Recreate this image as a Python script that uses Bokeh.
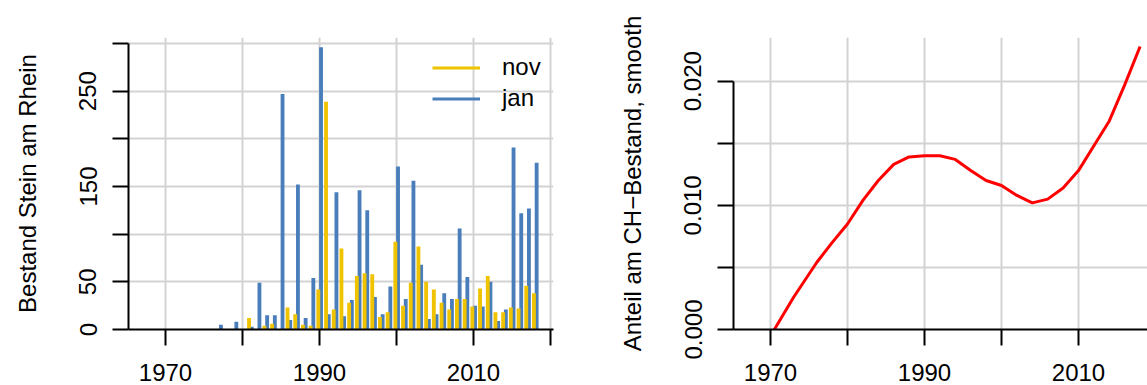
from bokeh.plotting import figure
from bokeh.models import Range1d, FixedTicker, Legend, LegendItem, ColumnDataSource
from bokeh.transform import dodge
from bokeh.layouts import row
from bokeh.embed import file_html
from bokeh.resources import INLINE

# ---------------- data ----------------
years = list(range(1977, 2019))
nov = [0, 0, 0, 12, 0, 4, 6, 0, 23, 16,
       5, 4, 42, 239, 21, 85, 28, 56, 59, 58,
       13, 18, 92, 25, 49, 87, 50, 42, 28, 21,
       32, 32, 24, 43, 56, 18, 18, 23, 22, 46,
       38, 0]
jan = [5, 0, 8, 0, 3, 49, 15, 15, 247, 10,
       152, 12, 54, 296, 16, 144, 14, 31, 146, 125,
       34, 16, 45, 171, 32, 156, 68, 11, 16, 38,
       32, 106, 55, 25, 24, 50, 9, 21, 191, 122,
       127, 175]

curve_years = [1970.5, 1973, 1976, 1978, 1980, 1982, 1984, 1986, 1988, 1990,
               1992, 1994, 1996, 1998, 2000, 2002, 2004, 2006, 2008, 2010,
               2012, 2014, 2016, 2018]
curve_share = [0.0, 0.0026, 0.0054, 0.0070, 0.0085, 0.0104, 0.0120, 0.0133, 0.0139, 0.0140,
               0.0140, 0.0137, 0.0128, 0.0120, 0.0116, 0.0108, 0.0102, 0.0105, 0.0114, 0.0128,
               0.0148, 0.0168, 0.0197, 0.0228]

x_ticks = [1970, 1980, 1990, 2000, 2010, 2020]
x_tick_labels = ["1970", "", "1990", "", "2010", ""]
y1_ticks = [0, 50, 100, 150, 200, 250, 300]
y1_tick_labels = ["0", "50", "", "150", "", "250", ""]
y2_ticks = [0, 0.005, 0.01, 0.015, 0.02]
y2_tick_labels = ["0.000", "", "0.010", "", "0.020"]

# ---------------- style ----------------
GOLD = "#F0C300"
BLUE = "#4A7EBB"
RED = "#FF0000"
GRID = "#D3D3D3"
FONT = "Liberation Sans"
FS = "24px"
PX_YEAR = 7.7
X0 = 1965.195
FRAME_H = 292


def style(p, yticks, ylabels, ybounds, ytitle):
    p.outline_line_color = None
    p.background_fill_color = "white"
    p.border_fill_color = "white"
    for ax in (p.xaxis[0], p.yaxis[0]):
        ax.axis_line_width = 2
        ax.axis_line_color = "black"
        ax.major_tick_line_width = 2
        ax.major_tick_line_color = "black"
        ax.major_tick_out = 16
        ax.major_tick_in = 0
        ax.minor_tick_line_color = None
        ax.major_label_text_font = FONT
        ax.major_label_text_font_size = FS
        ax.major_label_text_color = "black"
        ax.axis_label_text_font = FONT
        ax.axis_label_text_font_size = FS
        ax.axis_label_text_font_style = "normal"
        ax.axis_label_text_color = "black"
    xa = p.xaxis[0]
    xa.ticker = FixedTicker(ticks=x_ticks)
    xa.major_label_overrides = {t: s for t, s in zip(x_ticks, x_tick_labels)}
    xa.major_label_standoff = 18
    xa.major_label_text_line_height = 0.8
    ya = p.yaxis[0]
    ya.ticker = FixedTicker(ticks=yticks)
    ya.major_label_overrides = {t: s for t, s in zip(yticks, ylabels)}
    ya.major_label_orientation = "vertical"
    ya.major_label_standoff = 16
    ya.axis_label = ytitle
    ya.axis_label_standoff = 36
    ya.bounds = ybounds
    p.xgrid.ticker = FixedTicker(ticks=x_ticks)
    p.ygrid.ticker = FixedTicker(ticks=yticks)
    for g in (p.xgrid[0], p.ygrid[0]):
        g.grid_line_color = GRID
        g.grid_line_width = 2


# ---------------- left panel ----------------
w1_frame = 425
p1 = figure(width=605, height=385, output_backend="svg", toolbar_location=None,
            x_range=Range1d(X0, X0 + w1_frame / PX_YEAR),
            y_range=Range1d(0, FRAME_H / (286 / 300)),
            min_border_left=128, min_border_right=52, min_border_top=37, min_border_bottom=56)

src = ColumnDataSource(dict(year=years, nov=nov, jan=jan))
p1.vbar(x=dodge("year", 0.2, range=p1.x_range), top="jan", bottom=0, width=0.5,
        source=src, fill_color=BLUE, line_color=None)
p1.vbar(x=dodge("year", 0.85, range=p1.x_range), top="nov", bottom=0, width=0.5,
        source=src, fill_color=GOLD, line_color=None)

style(p1, y1_ticks, y1_tick_labels, (0, 300), "Bestand Stein am Rhein")

nan = float("nan")
r_nov = p1.line(x=[nan], y=[nan], line_color=GOLD, line_width=3)
r_jan = p1.line(x=[nan], y=[nan], line_color=BLUE, line_width=3)
legend = Legend(items=[LegendItem(label="nov", renderers=[r_nov]),
                       LegendItem(label="jan", renderers=[r_jan])],
                location=(304, 215.5), padding=0, margin=0, spacing=0,
                glyph_width=48, glyph_height=31, label_height=31, label_standoff=22,
                label_text_font=FONT, label_text_font_size=FS, label_text_color="black",
                border_line_color=None, background_fill_alpha=0)
p1.add_layout(legend)

# ---------------- right panel ----------------
w2_frame = 414
p2 = figure(width=542, height=385, output_backend="svg", toolbar_location=None,
            x_range=Range1d(X0, X0 + w2_frame / PX_YEAR),
            y_range=Range1d(0, FRAME_H / (248.3 / 0.02)),
            min_border_left=128, min_border_right=0, min_border_top=37, min_border_bottom=56)
p2.line(curve_years, curve_share, line_color=RED, line_width=3, line_join="round")
style(p2, y2_ticks, y2_tick_labels, (0, 0.02), "Anteil am CH\u2212Bestand, smooth")

layout = row(p1, p2)
open("out.html", "w").write(file_html(layout, INLINE))
